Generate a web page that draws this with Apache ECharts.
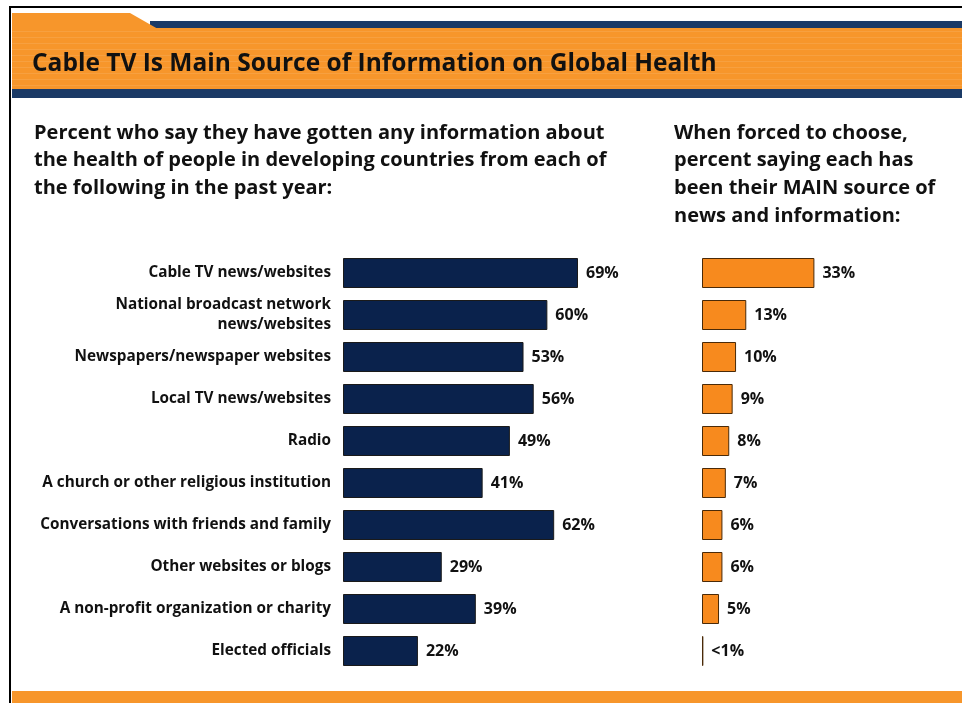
<!DOCTYPE html>
<html>
<head>
<meta charset="utf-8">
<script src="https://cdn.jsdelivr.net/npm/echarts@6/dist/echarts.min.js"></script>
<style>
  html, body { margin: 0; padding: 0; background: #fff; }
  #main { width: 962px; height: 703px; }
</style>
</head>
<body>
<div id="main"></div>
<script>
// data
var categories = [
  'Cable TV news/websites',
  'National broadcast network\nnews/websites',
  'Newspapers/newspaper websites',
  'Local TV news/websites',
  'Radio',
  'A church or other religious institution',
  'Conversations with friends and family',
  'Other websites or blogs',
  'A non-profit organization or charity',
  'Elected officials'
];
var anyInfo = [69, 60, 53, 56, 49, 41, 62, 29, 39, 22];
var mainSource = [33, 13, 10, 9, 8, 7, 6, 6, 5, 0.4];
var mainLabels = ['33%', '13%', '10%', '9%', '8%', '7%', '6%', '6%', '5%', '<1%'];

var FONT = '"Open Sans", "DejaVu Sans", sans-serif';

var chart = echarts.init(document.getElementById('main'));

// header stripes
var stripes = [];
for (var y = 31; y < 88; y += 6) {
  stripes.push({
    type: 'rect', silent: true,
    shape: { x: 12, y: y, width: 950, height: 1 },
    style: { fill: 'rgba(255,255,255,0.1)' }
  });
}

var option = {
  animation: false,
  backgroundColor: '#fff',
  graphic: [
    // frame
    { type: 'rect', shape: { x: 9, y: 6, width: 953, height: 2 }, style: { fill: '#000' } },
    { type: 'rect', shape: { x: 9, y: 6, width: 2, height: 697 }, style: { fill: '#000' } },
    // header: navy strip and orange tab
    { type: 'rect', shape: { x: 150, y: 21, width: 812, height: 8 }, style: { fill: '#1b3a66' } },
    { type: 'polygon', shape: { points: [[12, 13], [130, 13], [158, 29], [12, 29]] }, style: { fill: '#f7962b' } },
    { type: 'rect', shape: { x: 12, y: 28, width: 950, height: 61 }, style: { fill: '#f7962b' } },
    { type: 'rect', shape: { x: 12, y: 89, width: 950, height: 9 }, style: { fill: '#1b3a66' } },
    { type: 'group', children: stripes },
    {
      type: 'text', left: 32, top: 52,
      style: { text: 'Cable TV Is Main Source of Information on Global Health', font: 'bold 24.5px ' + FONT, fill: '#111' }
    },
    // subheads
    {
      type: 'text', left: 34, top: 119,
      style: {
        text: 'Percent who say they have gotten any information about\nthe health of people in developing countries from each of\nthe following in the past year:',
        font: 'bold 20px ' + FONT, fill: '#111', lineHeight: 27.7
      }
    },
    {
      type: 'text', left: 674, top: 119,
      style: {
        text: 'When forced to choose,\npercent saying each has\nbeen their MAIN source of\nnews and information:',
        font: 'bold 20px ' + FONT, fill: '#111', lineHeight: 27.7
      }
    },
    // bottom band
    { type: 'rect', shape: { x: 12, y: 691, width: 950, height: 12 }, style: { fill: '#f7962b' } }
  ],
  grid: [
    { left: 343, top: 252, width: 340.6, height: 420 },
    { left: 702, top: 252, width: 170.3, height: 420 }
  ],
  xAxis: [
    { gridIndex: 0, type: 'value', min: 0, max: 100, show: false },
    { gridIndex: 1, type: 'value', min: 0, max: 50, show: false }
  ],
  yAxis: [
    {
      gridIndex: 0, type: 'category', data: categories, inverse: true,
      axisLine: { show: false }, axisTick: { show: false }, splitLine: { show: false },
      axisLabel: {
        margin: 12, color: '#111', fontFamily: FONT, fontWeight: 'bold', fontSize: 15.3,
        align: 'right', lineHeight: 20
      }
    },
    {
      gridIndex: 1, type: 'category', data: categories, inverse: true,
      axisLine: { show: false }, axisTick: { show: false }, axisLabel: { show: false }
    }
  ],
  series: [
    {
      type: 'bar', xAxisIndex: 0, yAxisIndex: 0, data: anyInfo, barWidth: 30,
      itemStyle: { color: '#0a224c', borderColor: '#1a1a1a', borderWidth: 1 },
      label: {
        show: true, position: 'right', distance: 8, formatter: '{c}%',
        color: '#111', fontFamily: FONT, fontWeight: 'bold', fontSize: 16
      }
    },
    {
      type: 'bar', xAxisIndex: 1, yAxisIndex: 1, data: mainSource, barWidth: 30,
      itemStyle: { color: '#f78a1e', borderColor: '#4a2a08', borderWidth: 1 },
      label: {
        show: true, position: 'right', distance: 8,
        formatter: function (p) { return mainLabels[p.dataIndex]; },
        color: '#111', fontFamily: FONT, fontWeight: 'bold', fontSize: 16
      }
    }
  ]
};

chart.setOption(option);
</script>
</body>
</html>
